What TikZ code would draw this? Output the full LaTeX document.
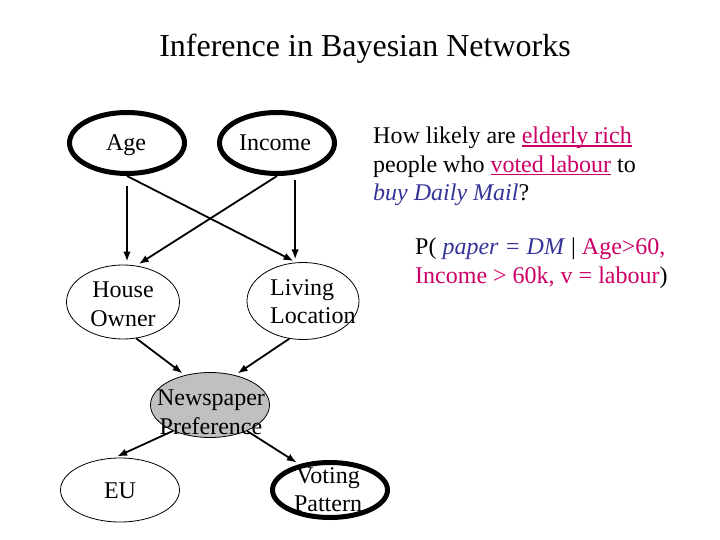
\documentclass[tikz,border=0pt]{standalone}
\usepackage{fontspec}
\setmainfont{Liberation Serif}
\usetikzlibrary{shapes.geometric,arrows.meta}
\definecolor{rose}{RGB}{204,0,102}
\definecolor{encre}{RGB}{51,51,153}
\definecolor{gris}{RGB}{192,192,192}
\newcommand{\souligne}[1]{\setbox0\hbox{#1}\rlap{\rule[-3pt]{\wd0}{1.4pt}}\box0}

\begin{document}
\begin{tikzpicture}[x=1pt,y=-1pt]
    \useasboundingbox (0,0) rectangle (720,540);
    \tikzstyle{texte}=[inner sep=0pt,align=center,font=\fontsize{24}{28.5}\selectfont]
    \tikzstyle{var}=[ellipse,draw,inner sep=0pt,line width=0.8pt]
    \tikzstyle{obs}=[var,line width=5pt]
    \tikzstyle{lien}=[-{Latex[length=10pt,width=7.5pt]},line width=1.8pt,shorten >=3pt]

    %%%%%%%%%%%%%%%%%%%%%%%%%%%%%%%%%%%%%% Titre
    \node[anchor=base,inner sep=0pt,font=\fontsize{32}{38}\selectfont] (titre) at (365,57) {Inference in Bayesian Networks};

    %%%%%%%%%%%%%%%%%%%%%%%%%%%%%%%%%%%%%% Variables
    \node[obs,minimum width=115pt,minimum height=61pt] (age) at (127,143) {};
    \node[obs,minimum width=115pt,minimum height=61pt] (income) at (277,143) {};
    \node[var,minimum width=113pt,minimum height=74pt] (house) at (123,302) {};
    \node[var,minimum width=112pt,minimum height=77pt] (living) at (303,301) {};
    \node[var,fill=gris,minimum width=119pt,minimum height=65pt] (paper) at (210,405) {};
    \node[var,minimum width=119pt,minimum height=64pt] (eu) at (120,490) {};
    \node[obs,minimum width=115pt,minimum height=55pt] (voting) at (330,490) {};

    %%%%%%%%%%%%%%%%%%%%%%%%%%%%%%%%%%%%%% Noms des variables
    \node[texte,anchor=base] (agetxt) at (126,151) {Age};
    \node[texte,anchor=base] (incometxt) at (275,151) {Income};
    \node[texte,anchor=north] (housetxt) at (123,282) {House\\Owner};
    \node[texte,anchor=north west,align=left] (livingtxt) at (270,279) {Living\\Location};
    \node[texte,anchor=north] (papertxt) at (211,390) {Newspaper\\Preference};
    \node[texte,anchor=base] (eutxt) at (120,498) {EU};
    \node[texte,anchor=north] (votingtxt) at (328,467) {Voting\\Pattern};

    %%%%%%%%%%%%%%%%%%%%%%%%%%%%%%%%%%%%%% Arcs
    \draw[lien,shorten <=10pt] (age.south) -- (age.south |- house.north);
    \draw[lien] (age.south) -- (living.100);
    \draw[lien] (income.south) -- (house.70);
    \draw[lien,shorten <=6pt] (income.300) -- (income.300 |- living.100);
    \draw[lien] (house.290) -- (paper.130);
    \draw[lien] (living.250) -- (paper.50);
    \draw[lien] (paper.215) -- (eu.100);
    \draw[lien] (paper.325) -- (voting.140);

    %%%%%%%%%%%%%%%%%%%%%%%%%%%%%%%%%%%%%% Question
    \node[texte,anchor=north west,align=left] (question) at (373,127)
        {How likely are \textcolor{rose}{\souligne{elderly rich}}\\
         people who \textcolor{rose}{\souligne{voted labour}} to\\
         \textcolor{encre}{\textit{buy Daily Mail}}?};
    \node[texte,anchor=north west,align=left] (proba) at (415,238)
        {P( \textcolor{encre}{\textit{paper = DM}} | \textcolor{rose}{Age>60,}\\
         \textcolor{rose}{Income > 60k, v = labour})};
\end{tikzpicture}
\end{document}
